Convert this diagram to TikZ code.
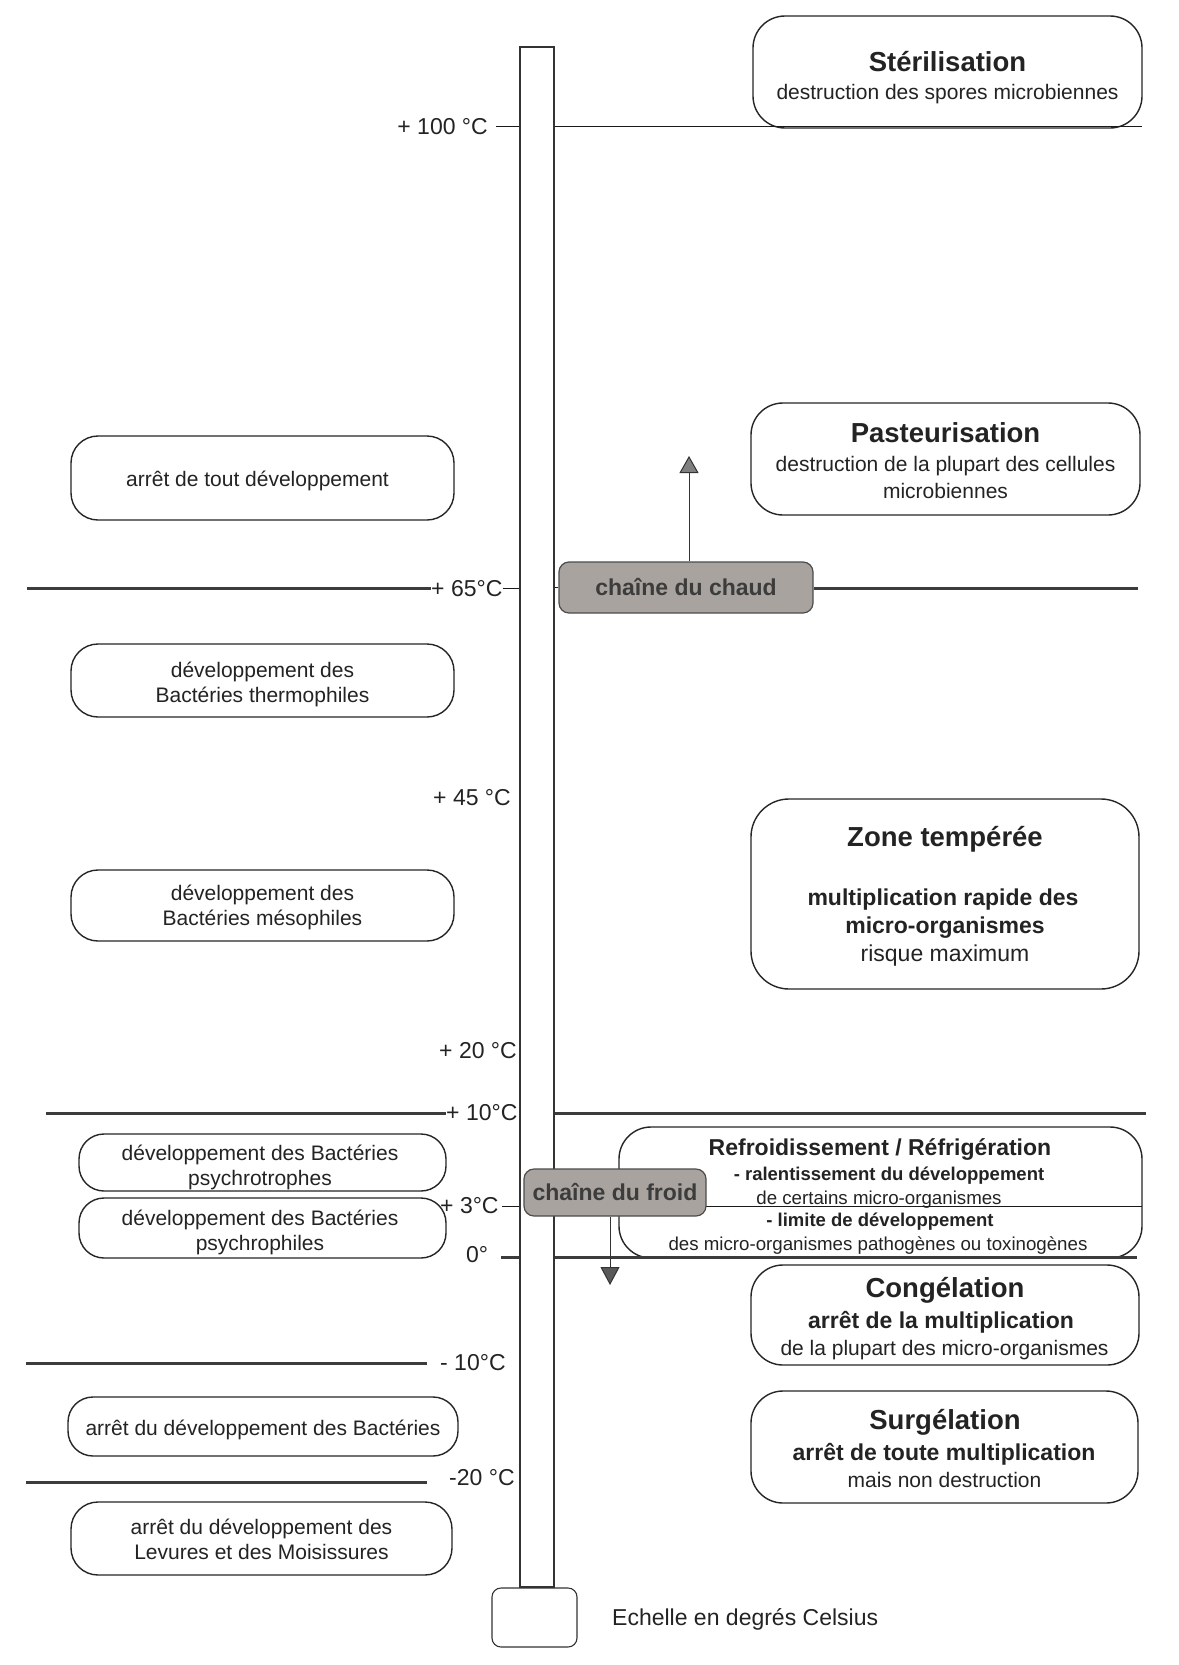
\documentclass[tikz,border=0pt]{standalone}
\usepackage{fontspec}
\setmainfont{Liberation Sans}
\usetikzlibrary{arrows.meta}
\definecolor{txt}{RGB}{35,35,35}
\definecolor{chaingray}{RGB}{168,163,158}
\definecolor{chaintext}{RGB}{60,60,60}
\definecolor{lineg}{RGB}{60,60,60}
\tikzset{
  bx/.style={draw=black!85, line width=1.4pt, rounded corners=#1, inner sep=0pt},
  bx/.default=27pt,
  chain/.style={draw=black!70, line width=1.2pt, fill=chaingray, rounded corners=10pt,
    text=chaintext, font=\fontsize{23}{28}\selectfont\bfseries, inner sep=0pt,
    text height=16.5pt, text depth=0pt},
  tl/.style={inner sep=0pt, text=txt, text depth=0pt},
  ttl/.style={tl, font=\fontsize{27.5}{32}\selectfont\bfseries, text height=19.7pt},
  bb/.style={tl, font=\fontsize{23}{27}\selectfont\bfseries, text height=16.5pt},
  rg/.style={tl, font=\fontsize{21}{25}\selectfont, text height=15pt},
  rgl/.style={tl, font=\fontsize{23}{27}\selectfont, text height=16.5pt},
  sb/.style={tl, font=\fontsize{18.5}{22}\selectfont\bfseries, text height=13.3pt},
  sr/.style={tl, font=\fontsize{18.7}{22}\selectfont, text height=13.4pt},
  lab/.style={tl, font=\fontsize{23}{27}\selectfont, text height=16.5pt},
  thinln/.style={draw=black!90, line width=1pt},
  thickln/.style={draw=lineg, line width=3pt},
  arr/.style={draw=black!80, line width=1pt},
}
\begin{document}
\begin{tikzpicture}[x=1pt,y=-1pt]
\useasboundingbox (0,0) rectangle (1178,1665);
\fill[white] (0,0) rectangle (1178,1665);

% thermometer
\node[draw=black!80, line width=1.1pt, minimum width=34pt, minimum height=1540pt, inner sep=0pt] (tube) at (537,817) {};
\node[draw=black!80, line width=1.1pt, rounded corners=9pt, minimum width=85pt, minimum height=59pt, inner sep=0pt] (bulb) at (534.5,1617.5) {};
\node[lab, anchor=west] (echelle) at (612,1617) {Echelle en degrés Celsius};

% right boxes
\node[bx=32pt, minimum width=389pt, minimum height=112pt] (ster) at (947.5,72) {};
\node[ttl] (sterT) at (947.5,62) {Stérilisation};
\node[rg] (sterA) at (947.5,92) {destruction des spores microbiennes};

\node[bx=32pt, minimum width=389pt, minimum height=112pt] (past) at (945.5,459) {};
\node[ttl] (pastT) at (945.5,433) {Pasteurisation};
\node[rg] (pastA) at (945.5,464) {destruction de la plupart des cellules};
\node[rg] (pastB) at (945.5,491) {microbiennes};

\node[bx=38pt, minimum width=388pt, minimum height=190pt] (zone) at (945,894) {};
\node[ttl] (zoneT) at (945,837) {Zone tempérée};
\node[bb] (zoneA) at (943,897) {multiplication rapide des};
\node[bb] (zoneB) at (945,925) {micro-organismes};
\node[rgl] (zoneC) at (945,953) {risque maximum};

\node[bx=32pt, minimum width=523pt, minimum height=131pt] (refr) at (880.5,1192.5) {};
\node[bb] (refrT) at (880,1147) {Refroidissement / Réfrigération};
\node[sb] (refrA) at (889,1174) {- ralentissement du développement};
\node[sr] (refrB) at (879,1198) {de certains micro-organismes};
\node[sb] (refrC) at (880,1220) {- limite de développement};
\node[sr] (refrD) at (878,1244) {des micro-organismes pathogènes ou toxinogènes};

\node[bx=32pt, minimum width=388pt, minimum height=100pt] (cong) at (945,1315) {};
\node[ttl] (congT) at (945,1288) {Congélation};
\node[bb] (congA) at (941,1320) {arrêt de la multiplication};
\node[rg] (congB) at (944.5,1348) {de la plupart des micro-organismes};

\node[bx=32pt, minimum width=387pt, minimum height=112pt] (surg) at (944.5,1447) {};
\node[ttl] (surgT) at (945,1420) {Surgélation};
\node[bb] (surgA) at (944,1452) {arrêt de toute multiplication};
\node[rg] (surgB) at (944.5,1480) {mais non destruction};

% left boxes
\node[bx, minimum width=383pt, minimum height=84pt] (tout) at (262.5,478) {};
\node[rg] (toutA) at (257.5,479) {arrêt de tout développement};

\node[bx, minimum width=383pt, minimum height=73pt] (thermo) at (262.5,680.5) {};
\node[rg] (thermoA) at (262.5,670) {développement des};
\node[rg] (thermoB) at (262.5,695) {Bactéries thermophiles};

\node[bx, minimum width=383pt, minimum height=71pt] (meso) at (262.5,905.5) {};
\node[rg] (mesoA) at (262.5,893) {développement des};
\node[rg] (mesoB) at (262.5,918) {Bactéries mésophiles};

\node[bx=25pt, minimum width=367pt, minimum height=57pt] (ptro) at (262.5,1162.5) {};
\node[rg] (ptroA) at (260,1153) {développement des Bactéries};
\node[rg] (ptroB) at (260,1178) {psychrotrophes};

\node[bx=25pt, minimum width=367pt, minimum height=60pt] (pphi) at (262.5,1228) {};
\node[rg] (pphiA) at (260,1218) {développement des Bactéries};
\node[rg] (pphiB) at (260,1243) {psychrophiles};

\node[bx=25pt, minimum width=390pt, minimum height=59pt] (abact) at (263,1426.5) {};
\node[rg] (abactA) at (263,1428) {arrêt du développement des Bactéries};

\node[bx, minimum width=381pt, minimum height=73pt] (lev) at (261.5,1538.5) {};
\node[rg] (levA) at (261.5,1527) {arrêt du développement des};
\node[rg] (levB) at (261.5,1552) {Levures et des Moisissures};

% temperature labels
\node[lab, anchor=east] (l100) at (488,126) {+ 100 °C};
\node[lab, anchor=west] (l65) at (431,588) {+ 65°C};
\node[lab, anchor=east] (l45) at (511,797) {+ 45 °C};
\node[lab, anchor=east] (l20) at (517,1050) {+ 20 °C};
\node[lab, anchor=west] (l10) at (446,1112) {+ 10°C};
\node[lab, anchor=west] (l3) at (440,1205) {+ 3°C};
\node[lab, anchor=west] (l0) at (466,1254) {0°};
\node[lab, anchor=west] (lm10) at (440,1362) {- 10°C};
\node[lab, anchor=west] (lm20) at (449,1477) {-20 °C};

% free line ends
\coordinate (r100) at (1142,126);
\coordinate (e65l) at (27,588);
\coordinate (e65r) at (1138,588);
\coordinate (e10l) at (46,1113);
\coordinate (e10r) at (1146,1113);
\coordinate (e3r) at (1142,1206);
\coordinate (e0l) at (501,1257);
\coordinate (e0r) at (1137,1257);
\coordinate (em10l) at (26,1363);
\coordinate (em10r) at (427,1363);
\coordinate (em20l) at (26,1482);
\coordinate (em20r) at (427,1482);

% lines
\draw[thinln] ([xshift=8pt]l100.east) -- (tube.west |- l100.east);
\draw[thinln] (tube.east |- r100) -- (r100);
\draw[thickln] (e65l) -- (l65.west |- e65l);
\draw[thinln] (l65.east) -- (tube.west |- l65.east);
\draw[thickln] (e10l) -- (l10.west |- e10l);
\draw[thickln] (tube.east |- e10r) -- (e10r);
\draw[thinln] ([xshift=3pt]l3.east |- e3r) -- (tube.west |- e3r);
\draw[thinln] (tube.east |- e3r) -- (e3r);
\draw[thickln] (e0l) -- (tube.west |- e0l);
\draw[thickln] (tube.east |- e0r) -- (e0r);
\draw[thickln] (em10l) -- (em10r);
\draw[thickln] (em20l) -- (em20r);

% chains
\node[chain, minimum width=254pt, minimum height=51pt] (chaud) at (686,587.5) {chaîne du chaud};
\draw[thickln] (chaud.east |- e65r) -- (e65r);
\draw[thinln] (tube.east |- chaud.west) -- (chaud.west);
\node[chain, minimum width=182pt, minimum height=47pt] (froid) at (615,1192.5) {chaîne du froid};

\coordinate (uptip) at (689,456);
\draw[arr, -{Triangle[width=19pt,length=17pt,fill=black!50]}] (uptip |- chaud.north) -- (uptip);
\coordinate (dntip) at (610,1285);
\draw[arr, -{Triangle[width=19pt,length=18pt,fill=black!65]}] (dntip |- froid.south) -- (dntip);
\end{tikzpicture}
\end{document}
